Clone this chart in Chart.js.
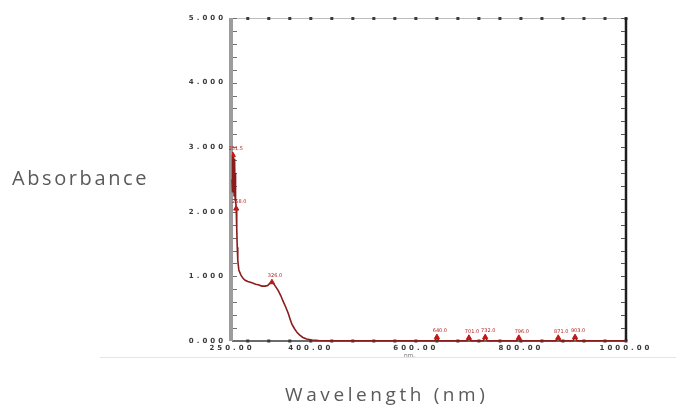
<!DOCTYPE html>
<html>
<head>
<meta charset="utf-8">
<script src="https://cdn.jsdelivr.net/npm/chart.js@4.4.1/dist/chart.umd.min.js"></script>
<style>
  html, body { margin: 0; padding: 0; background: #fff; }
  #wrap { position: relative; width: 676px; height: 410px; overflow: hidden; background: #fff; }
  #c { position: absolute; left: 0; top: 0; }
  .t { position: absolute; white-space: nowrap; font-family: "Open Sans", sans-serif; color: #5a5a5a; }
</style>
</head>
<body>
<div id="wrap">
  <canvas id="c" width="676" height="410"></canvas>
  <div class="t" id="ylab" style="left:12px; top:164px; font-size:20px; letter-spacing:2.6px;">Absorbance</div>
  <div class="t" id="xlab" style="left:285px; top:381px; font-size:19px; letter-spacing:3.6px;">Wavelength (nm)</div>
  <div style="position:absolute; left:100px; top:357px; width:580px; height:1px; background:#ece5d3;"></div>
  <div class="t" style="left:404px; top:351px; font-size:6px; color:#666;">nm.</div>
</div>
<script>
// ---- data ----
const wavelengths = [250, 250.5, 251, 251.5, 252, 252.5, 253, 253.5, 254, 254.5, 255, 255.5, 256, 256.5, 257, 258, 259, 260, 261, 263, 267, 271, 275, 280, 288, 295, 300, 307, 313, 318, 322, 326, 330, 334, 338, 343, 347, 352, 357, 361, 364, 369, 374, 379, 385, 392, 402, 415, 437, 500, 600,
  636, 640, 644, 697, 701, 705, 728, 732, 736, 792, 796, 800, 867, 871, 875, 899, 903, 907, 1000];
const absorbance = [2.5, 2.85, 2.3, 2.88, 2.35, 2.86, 2.3, 2.84, 2.25, 2.82, 2.3, 2.75, 2.2, 2.6, 2.2, 2.05, 1.75, 1.45, 1.25, 1.1, 1.02, 0.97, 0.94, 0.92, 0.9, 0.88, 0.87, 0.85, 0.85, 0.86, 0.89, 0.91, 0.88, 0.83, 0.78, 0.7, 0.62, 0.53, 0.43, 0.33, 0.26, 0.19, 0.13, 0.09, 0.055, 0.03, 0.015, 0.008, 0.005, 0.004, 0.003,
  0.003, 0.06, 0.003, 0.003, 0.05, 0.003, 0.003, 0.06, 0.003, 0.003, 0.05, 0.003, 0.003, 0.05, 0.003, 0.003, 0.06, 0.003, 0.003];
const peakWavelengths = [251.5, 258, 326, 640, 701, 732, 796, 871, 903];
const peakValues = [2.88, 2.05, 0.91, 0.06, 0.05, 0.06, 0.05, 0.05, 0.06];
const peakLabels = ["251.5", "258.0", "326.0", "640.0", "701.0", "732.0", "796.0", "871.0", "903.0"];
const xTickValues = [250, 400, 600, 800, 1000];
const xMinorStep = 40;
const xMinorStart = 280;
const yMin = 0, yMax = 5, yMinorStep = 0.2;

const spectrum = wavelengths.map((w, i) => ({ x: w, y: absorbance[i] }));
const peaks = peakWavelengths.map((w, i) => ({ x: w, y: peakValues[i] }));

const framePlugin = {
  id: 'frame',
  beforeDraw(chart) { chart.ctx.letterSpacing = '3px'; },
  beforeDatasetsDraw(chart) {
    const ctx = chart.ctx, a = chart.chartArea;
    const xs = chart.scales.x, ys = chart.scales.y;
    ctx.save();
    ctx.letterSpacing = '0px';
    // top line
    ctx.strokeStyle = '#bdbdbd'; ctx.lineWidth = 1;
    ctx.beginPath(); ctx.moveTo(a.left, a.top + 0.5); ctx.lineTo(a.right, a.top + 0.5); ctx.stroke();
    // bottom line
    ctx.strokeStyle = '#3a3a3a'; ctx.lineWidth = 1.5;
    ctx.beginPath(); ctx.moveTo(a.left, a.bottom); ctx.lineTo(a.right, a.bottom); ctx.stroke();
    // minor dots top & bottom
    ctx.fillStyle = '#3a3a3a';
    for (let v = xMinorStart; v <= xs.max; v += xMinorStep) {
      const px = xs.getPixelForValue(v);
      ctx.fillRect(px - 1.5, a.top - 1, 3, 3);
      ctx.fillRect(px - 1.5, a.bottom - 1.5, 3, 3);
    }
    // left axis thick gray
    ctx.strokeStyle = '#9c9c9c'; ctx.lineWidth = 4;
    ctx.beginPath(); ctx.moveTo(a.left - 1, a.top); ctx.lineTo(a.left - 1, a.bottom); ctx.stroke();
    // right axis black
    ctx.strokeStyle = '#1e1e1e'; ctx.lineWidth = 2.5;
    ctx.beginPath(); ctx.moveTo(a.right, a.top); ctx.lineTo(a.right, a.bottom); ctx.stroke();
    // y minor ticks (inside)
    ctx.lineWidth = 1;
    for (let v = yMin; v <= yMax + 1e-9; v += yMinorStep) {
      const py = Math.round(ys.getPixelForValue(v)) + 0.5;
      ctx.strokeStyle = '#6f6f6f';
      ctx.beginPath(); ctx.moveTo(a.left + 1, py); ctx.lineTo(a.left + 5, py); ctx.stroke();
      ctx.strokeStyle = '#555';
      ctx.beginPath(); ctx.moveTo(a.right - 1, py); ctx.lineTo(a.right - 5, py); ctx.stroke();
    }
    ctx.restore();
  },
  afterDatasetsDraw(chart) {
    const ctx = chart.ctx;
    const xs = chart.scales.x, ys = chart.scales.y;
    ctx.save();
    ctx.letterSpacing = '0px';
    // peak labels
    ctx.fillStyle = '#b02020';
    ctx.font = '5px "DejaVu Sans"';
    ctx.textAlign = 'center';
    ctx.textBaseline = 'bottom';
    peaks.forEach((p, i) => {
      const px = xs.getPixelForValue(p.x), py = ys.getPixelForValue(p.y);
      ctx.fillText(peakLabels[i], px + 3, py - 4);
    });
    ctx.restore();
  },
  afterDraw(chart) { chart.ctx.letterSpacing = '0px'; }
};

new Chart(document.getElementById('c'), {
  type: 'scatter',
  data: {
    datasets: [
      {
        label: 'Absorbance',
        data: spectrum,
        showLine: true,
        borderColor: '#8a1c1c',
        borderWidth: 1.6,
        pointRadius: 0,
        tension: 0,
        clip: 4,
        order: 2
      },
      {
        label: 'Peaks',
        data: peaks,
        showLine: false,
        pointStyle: 'triangle',
        pointRadius: 3,
        backgroundColor: '#c01818',
        borderColor: '#c01818',
        borderWidth: 1,
        order: 1
      }
    ]
  },
  options: {
    responsive: false,
    animation: false,
    devicePixelRatio: 1,
    layout: { padding: { left: 0, right: 50, top: 18, bottom: 0 } },
    plugins: { legend: { display: false }, tooltip: { enabled: false } },
    scales: {
      x: {
        type: 'linear',
        min: 250, max: 1000,
        afterBuildTicks(scale) { scale.ticks = xTickValues.map(v => ({ value: v })); },
        afterFit(scale) { scale.height = 69; },
        grid: { display: false, drawTicks: false },
        border: { display: false },
        ticks: {
          padding: 3,
          color: '#3a3a3a',
          font: { family: 'DejaVu Sans', size: 7, weight: 'bold' },
          maxRotation: 0,
          autoSkip: false,
          callback: v => Number(v).toFixed(2)
        }
      },
      y: {
        min: yMin, max: yMax,
        afterFit(scale) { scale.width = 232; },
        grid: { display: false, drawTicks: false },
        border: { display: false },
        ticks: {
          stepSize: 1,
          padding: 6,
          color: '#3a3a3a',
          font: { family: 'DejaVu Sans', size: 7, weight: 'bold' },
          callback: v => Number(v).toFixed(3)
        }
      }
    }
  },
  plugins: [framePlugin]
});
</script>
</body>
</html>
